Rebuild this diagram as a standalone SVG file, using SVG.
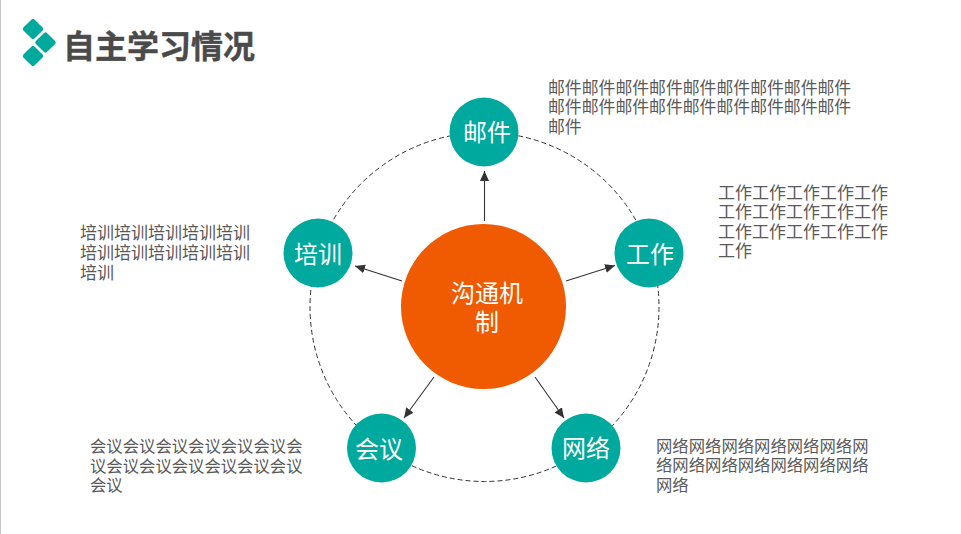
<svg xmlns="http://www.w3.org/2000/svg" width="961" height="534" viewBox="0 0 961 534">
<style>
text{font-family:"Noto Sans CJK SC","Noto Sans",sans-serif}
.n{fill:#00a99d}
.l{fill:#fff;font-size:24px;text-anchor:middle}
.d{fill:#595959;font-size:17px}
.f{fill:#595959;font-size:16.850px}
.e{fill:#595959;font-size:16.350px}
.c{stroke:#333;stroke-width:1.100;fill:none;marker-end:url(#a)}
.m{fill:#00a99d}
</style>
<defs><marker id="a" markerUnits="userSpaceOnUse" markerWidth="11" markerHeight="11" refX="10" refY="5" orient="auto"><path d="M0 0L10 4.500L0 9Z" fill="#333" transform="translate(0 .5)"/></marker></defs>
<rect width="961" height="534" fill="#fff"/>
<rect x="0" y="0" width="1" height="534" fill="#c8c8c8"/>
<g id="logo">
<rect class="m" x="-7.800" y="-7.800" width="15.600" height="15.600" rx="2" transform="translate(33 29) rotate(45)"/>
<rect class="m" x="-7.800" y="-7.800" width="15.600" height="15.600" rx="2" transform="translate(45.500 42.500) rotate(45)"/>
<rect class="m" x="-7.800" y="-7.800" width="15.600" height="15.600" rx="2" transform="translate(33 56) rotate(45)"/>
</g>
<text id="title" x="63" y="58" font-size="32" font-weight="700" fill="#4a4a4a" stroke="#4a4a4a" stroke-width=".4">自主学习情况</text>
<g id="connectors">
<circle cx="484.500" cy="307" r="174.500" fill="none" stroke="#333" stroke-width="1" stroke-dasharray="5 3"/>
<path class="c" d="M484.500 221V171"/>
<path class="c" d="M566 281L615 265.500"/>
<path class="c" d="M535 377L564 418"/>
<path class="c" d="M434 377L404 418"/>
<path class="c" d="M402 281L355 266"/>
</g>
<g id="center"><circle cx="483.500" cy="306.500" r="82.500" fill="#f05a00"/><text class="l" x="487" y="302">沟通机<tspan x="487" dy="29">制</tspan></text></g>
<g id="mail"><circle class="n" cx="484" cy="132" r="34.500"/><text class="l" x="487" y="141">邮件</text></g>
<g id="work"><circle class="n" cx="649" cy="253" r="34.500"/><text class="l" x="650" y="263">工作</text></g>
<g id="net"><circle class="n" cx="586" cy="448" r="34.500"/><text class="l" x="586" y="457">网络</text></g>
<g id="meet"><circle class="n" cx="381.500" cy="448" r="34.500"/><text class="l" x="379" y="458">会议</text></g>
<g id="train"><circle class="n" cx="318" cy="253" r="34.500"/><text class="l" x="318" y="263">培训</text></g>
<g id="mail-text"><text class="f" x="548" y="93.500">邮件邮件邮件邮件邮件邮件邮件邮件邮件<tspan x="548" dy="19.600">邮件邮件邮件邮件邮件邮件邮件邮件邮件</tspan><tspan x="548" dy="19.600">邮件</tspan></text></g>
<g id="work-text"><text class="d" x="718" y="198.800">工作工作工作工作工作<tspan x="718" dy="19.500">工作工作工作工作工作</tspan><tspan x="718" dy="19.500">工作工作工作工作工作</tspan><tspan x="718" dy="19.500">工作</tspan></text></g>
<g id="net-text"><text class="e" x="656" y="451.500">网络网络网络网络网络网络网<tspan x="656" dy="19.500">络网络网络网络网络网络网络</tspan><tspan x="656" dy="19.500">网络</tspan></text></g>
<g id="meet-text"><text class="e" x="90" y="452">会议会议会议会议会议会议会<tspan x="90" dy="19.500">议会议会议会议会议会议会议</tspan><tspan x="90" dy="19.500">会议</tspan></text></g>
<g id="train-text"><text class="d" x="80" y="239.300">培训培训培训培训培训<tspan x="80" dy="19.800">培训培训培训培训培训</tspan><tspan x="80" dy="19.800">培训</tspan></text></g>
</svg>
